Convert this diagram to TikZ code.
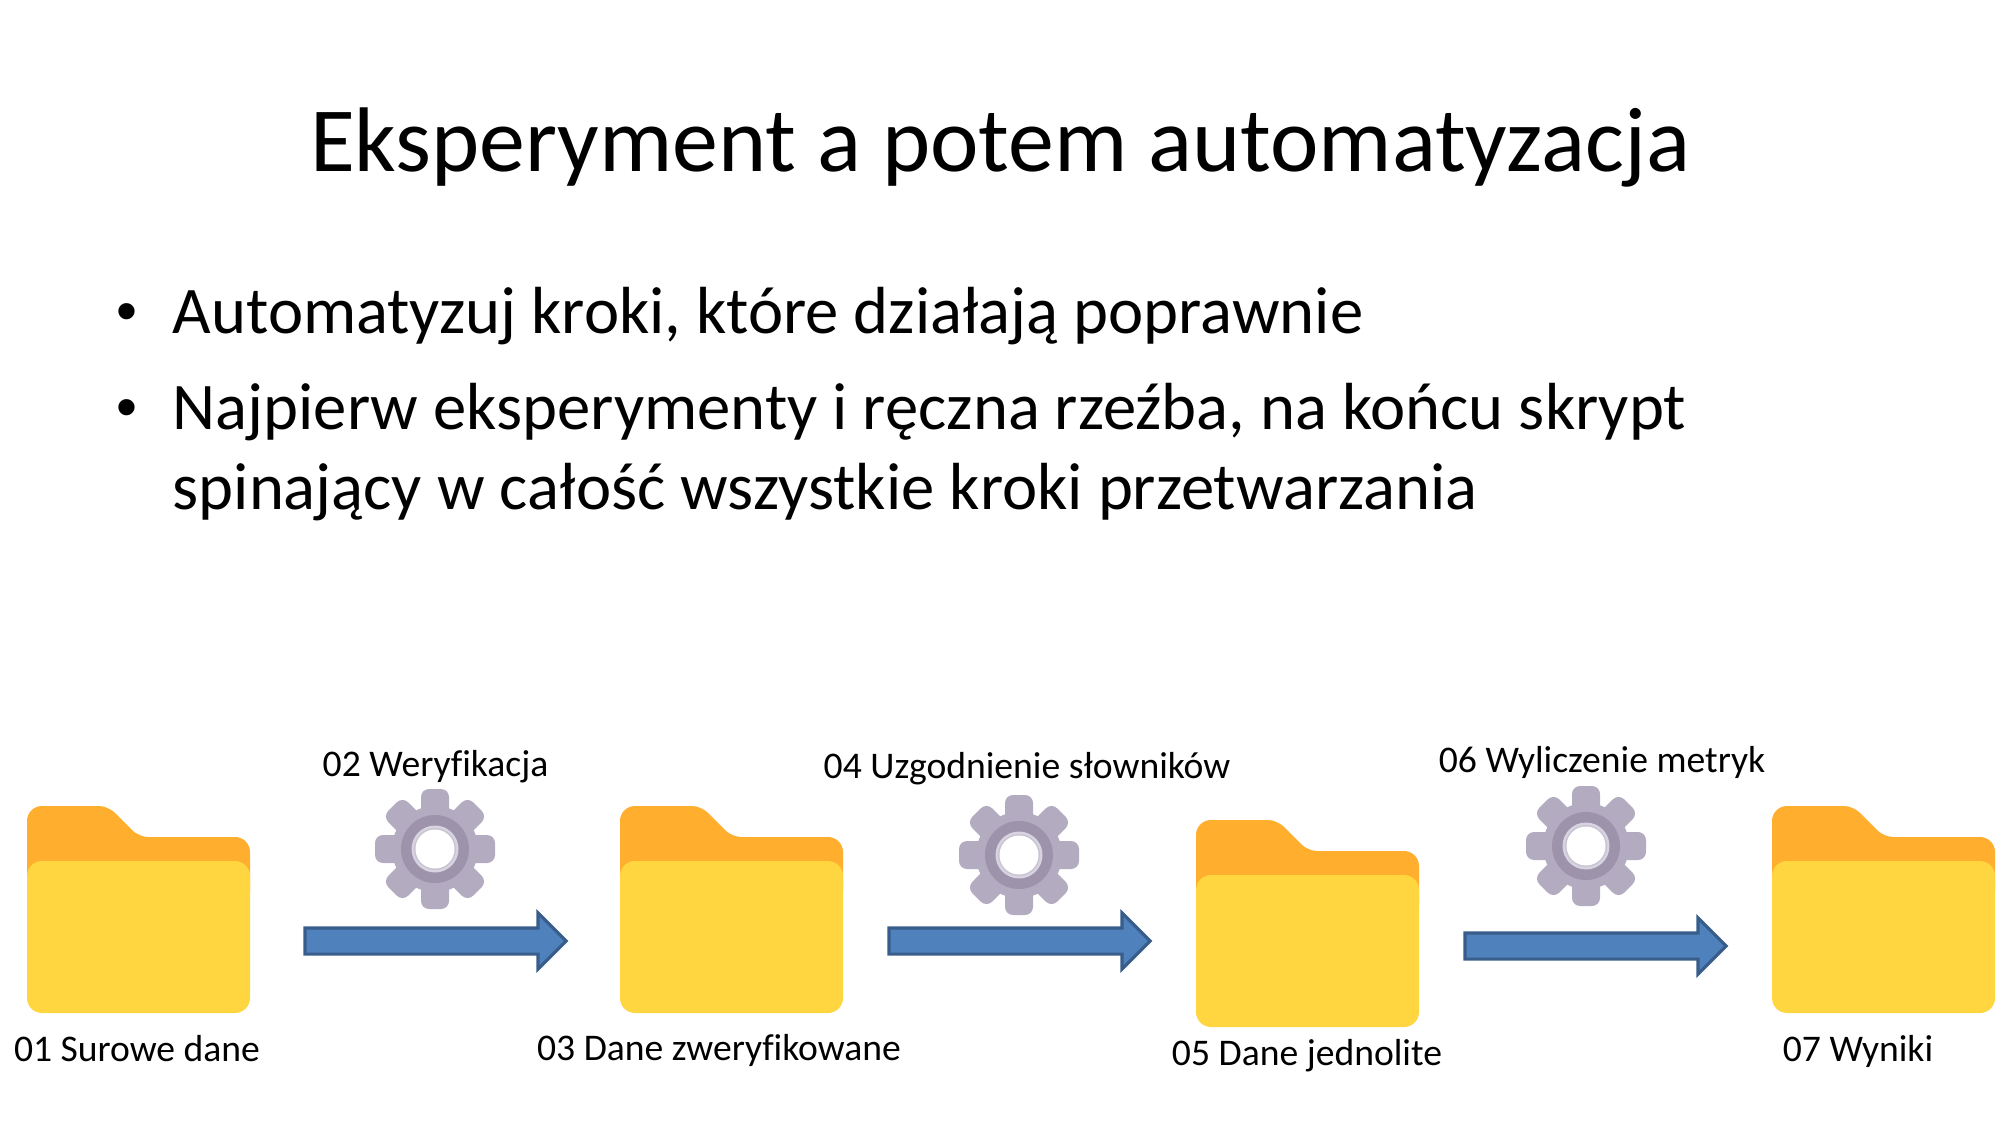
\documentclass[tikz,border=0pt]{standalone}
\usepackage{fontspec}
\setmainfont[Ligatures=NoCommon]{Carlito}
\newfontfamily\bulletfont{Liberation Sans}
\usetikzlibrary{shapes.arrows}
\definecolor{foldertab}{HTML}{FFAE2E}
\definecolor{folderfront}{HTML}{FFD540}
\definecolor{gearbody}{HTML}{B3ABBF}
\definecolor{gearhub}{HTML}{9D93AB}
\definecolor{gearring}{HTML}{D8D3E0}
\definecolor{stepfill}{HTML}{4F81BD}
\definecolor{stepline}{HTML}{385D8A}
\tikzset{
    titletext/.style={anchor=base, inner sep=0pt, font=\fontsize{26.1}{26.1}\selectfont},
    bullettext/.style={anchor=base west, inner sep=0pt, font=\fontsize{18.95}{18.95}\selectfont},
    bulletdot/.style={anchor=base west, inner sep=0pt, font=\bulletfont\fontsize{17}{17}\selectfont},
    labeltext/.style={anchor=base, inner sep=0pt, font=\fontsize{10.7}{10.7}\selectfont},
    steparrow/.style={single arrow, draw=stepline, fill=stepfill, line width=0.9pt,
        minimum height=261*0.01cm, minimum width=54*0.01cm, single arrow head extend=15*0.01cm,
        inner sep=0pt, inner ysep=11.5*0.01cm, anchor=center},
    pics/folder/.style={code={
        \fill[foldertab, rounded corners=15*0.01cm] (0,100) -- (0,0) [rounded corners=9*0.01cm] -- (81,0)
            -- (112,31) [rounded corners=15*0.01cm] -- (223,31) -- (223,100) -- cycle;
        \fill[folderfront, rounded corners=15*0.01cm] (0,55) rectangle (223,207);
    }},
    pics/gear/.style={code={
        \foreach \a in {0,45,...,315} {
            \fill[gearbody, rounded corners=8*0.01cm, rotate=\a] (-14,-60) rectangle (14,-25);
        }
        \fill[gearbody] (0,0) circle (43);
        \fill[gearhub] (0,0) circle (34);
        \fill[gearring] (0,0) circle (23.5);
        \fill[gearhub!55!white] (0,0) circle (21);
        \fill[white] (0,0) circle (19.5);
    }}
}
\begin{document}
\begin{tikzpicture}[x=0.01cm, y=-0.01cm]
    \useasboundingbox (0,0) rectangle (2000,1125);
    \node[titletext] (title) at (1000,172) {Eksperyment a potem automatyzacja};
    \node[bulletdot] (dot1) at (116,332) {•};
    \node[bullettext] (line1) at (172,334) {Automatyzuj kroki, które działają poprawnie};
    \node[bulletdot] (dot2) at (116,428) {•};
    \node[bullettext] (line2) at (172,430) {Najpierw eksperymenty i ręczna rzeźba, na końcu skrypt};
    \node[bullettext] (line3) at (172,510) {spinający w całość wszystkie kroki przetwarzania};
    \foreach \n/\x/\y in {a/27/806,b/620/806,c/1196/820,d/1772/806} {
        \pic (folder\n) at (\x,\y) {folder};
    }
    \foreach \n/\x/\y in {a/435/849,b/1019/855,c/1586/846} {
        \pic (gear\n) at (\x,\y) {gear};
    }
    \foreach \n/\x/\y in {a/436/941,b/1020/941,c/1596/946} {
        \node[steparrow] (arrow\n) at (\x-7,\y) {};
    }
    \node[labeltext] (lab1) at (137,1061) {01 Surowe dane};
    \node[labeltext] (lab2) at (435.5,776) {02 Weryfikacja};
    \node[labeltext] (lab3) at (719,1060) {03 Dane zweryfikowane};
    \node[labeltext] (lab4) at (1027,778) {04 Uzgodnienie słowników};
    \node[labeltext] (lab5) at (1307,1065) {05 Dane jednolite};
    \node[labeltext] (lab6) at (1602,772) {06 Wyliczenie metryk};
    \node[labeltext] (lab7) at (1858,1061) {07 Wyniki};
\end{tikzpicture}
\end{document}
